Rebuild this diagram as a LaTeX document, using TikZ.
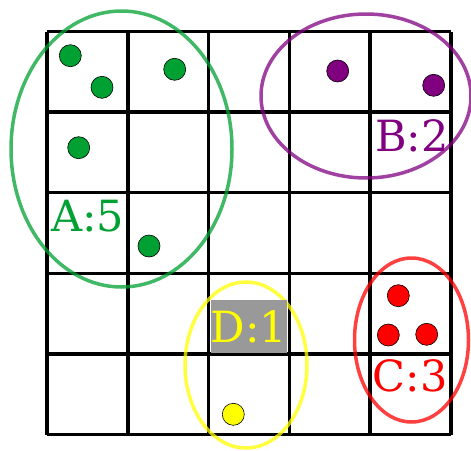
\documentclass[tikz,border=0pt]{standalone}
\usepackage{fontspec}
\setmainfont{DejaVu Serif}
\definecolor{cA}{RGB}{0,160,50}
\definecolor{cB}{RGB}{128,0,128}
\definecolor{cC}{RGB}{255,0,0}
\definecolor{cD}{RGB}{255,255,0}
\definecolor{cGray}{RGB}{153,153,153}
\begin{document}
\begin{tikzpicture}[x=1pt,y=-1pt,
  gridline/.style={line width=3.5pt,black},
  cluster/.style={line width=3.5pt,opacity=0.75},
  dot/.style={circle,draw=black,line width=0.6pt,minimum size=22pt,inner sep=0pt},
  lbl/.style={anchor=base west,inner sep=0pt,font=\fontsize{43}{50}\selectfont}]
\useasboundingbox (0,0) rectangle (471,450);
% grid
\foreach \i in {0,...,5} {
  \draw[gridline] ({47+80.8*\i},31.5) -- ({47+80.8*\i},434.5);
  \draw[gridline] (47,{31.5+80.6*\i}) -- (451,{31.5+80.6*\i});
}
% clusters
\draw[cluster,draw=cA] (121.5,149) ellipse [x radius=110.5pt,y radius=138pt];
\draw[cluster,draw=cB] (366,96) ellipse [x radius=105pt,y radius=82pt];
\draw[cluster,draw=cD] (246,365) ellipse [x radius=61pt,y radius=83pt];
\draw[cluster,draw=cC] (411.5,340) ellipse [x radius=57pt,y radius=82pt];
% dots
\node[dot,fill=cA] (a1) at (70.3,55.7) {};
\node[dot,fill=cA] (a2) at (102,87.3) {};
\node[dot,fill=cA] (a3) at (174.7,69.3) {};
\node[dot,fill=cA] (a4) at (78.7,147.7) {};
\node[dot,fill=cA] (a5) at (149,246) {};
\node[dot,fill=cB] (b1) at (337.7,71) {};
\node[dot,fill=cB] (b2) at (433.7,85.3) {};
\node[dot,fill=cC] (c1) at (398.3,295.7) {};
\node[dot,fill=cC] (c2) at (388.3,335) {};
\node[dot,fill=cC] (c3) at (426.7,334.3) {};
\node[dot,fill=cD] (d1) at (233.3,414.3) {};
% labels
\node[lbl,text=cA] (la) at (51,231.7) {A:5};
\node[lbl,text=cB] (lb) at (375,151.7) {B:2};
\node[lbl,text=cC] (lc) at (372.7,391.7) {C:3};
\node[lbl,text=cD,fill=cGray,text height=42pt,text depth=11pt] (ld) at (210.7,342) {D:1};
\end{tikzpicture}
\end{document}
